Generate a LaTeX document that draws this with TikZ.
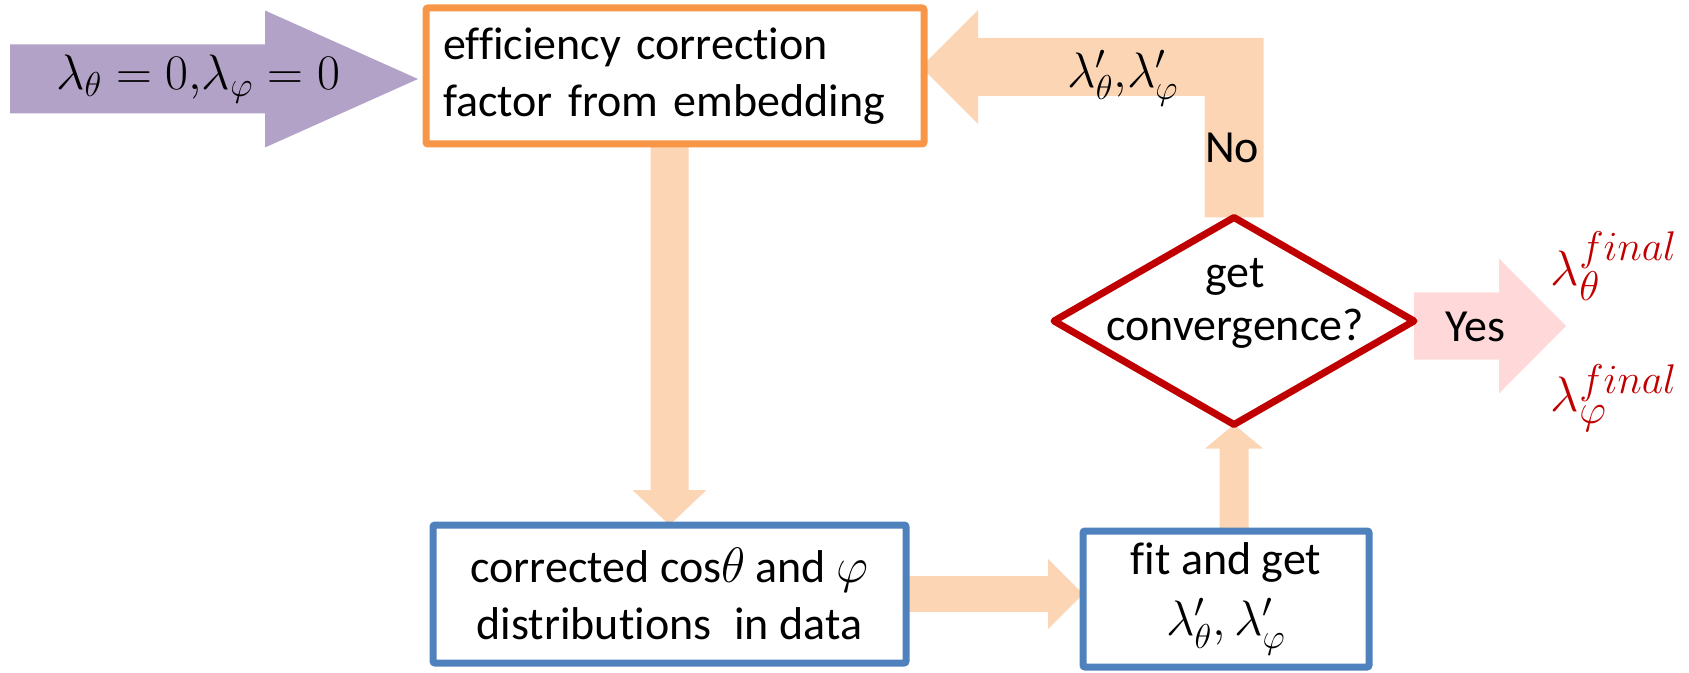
\documentclass[tikz,border=0pt]{standalone}
\usepackage{fontspec}
\setmainfont[Ligatures=NoCommon]{Carlito}
\usetikzlibrary{shapes.geometric,calc,backgrounds}

\definecolor{initfill}{HTML}{B3A2C7}
\definecolor{flowfill}{HTML}{FCD5B5}
\definecolor{yesfill}{HTML}{FFD9DA}
\definecolor{effline}{HTML}{F79646}
\definecolor{dataline}{HTML}{4F81BD}
\definecolor{decline}{HTML}{C00000}

\begin{document}
\begin{tikzpicture}[x=0.5pt,y=-0.5pt,
  every node/.style={inner sep=0pt, outer sep=0pt},
  txt/.style={font=\fontsize{23}{28.5}\selectfont},
  mathtxt/.style={font=\fontsize{26}{30}\selectfont},
  stepbox/.style={draw, line width=3.5pt, fill=white, rounded corners=1pt, txt},
  effbox/.style={stepbox, draw=effline, align=left},
  databox/.style={stepbox, draw=dataline, align=center},
  decision/.style={diamond, draw=decline, line width=3.5pt, line join=round, fill=white},
  flow/.style={fill=flowfill},
  result/.style={font=\fontsize{29}{34}\selectfont, text=decline}]

\useasboundingbox (0,0) rectangle (1689,673);

% process steps
\node[effbox, minimum width=249pt, minimum height=68pt, text width=232pt]
  (eff) at (675,76) {efficiency correction\\factor from embedding};
\node[databox, minimum width=236.5pt, minimum height=69pt]
  (corr) at (669.5,594) {corrected cos$\theta$ and $\varphi$\\distributions\hspace{0.5em}in data};
\node[databox, minimum width=143pt, minimum height=68pt]
  (fit) at (1226,599) {fit and get\\[2pt]$\lambda'_\theta,\lambda'_\varphi$};
\node[decision, minimum width=180pt, minimum height=103.5pt] (conv) at (1234,321) {};
\node[txt, align=center, font=\fontsize{23}{26.5}\selectfont] (convtext) at (1235,303) {get\\convergence?};

% final values
\node[result] (lamth) at (1614,266) {$\lambda_\theta^{final}$};
\node[result] (lamph) at (1614,398) {$\lambda_\varphi^{final}$};

% reference points for the block arrows
\coordinate (inTip) at ($(eff.west)+(-8,3)$);
\coordinate (backTip) at ($(eff.east)+(-3,-9)$);
\coordinate (backCorner) at (conv.north |- backTip);
\coordinate (downStart) at (eff.south -| corr.north);
\coordinate (rightTip) at (fit.west |- corr.east);
\coordinate (upStart) at (fit.north -| conv.south);
\coordinate (yesTip) at ($(conv.east)+(152,5)$);
\coordinate (yesStart) at (conv.east |- yesTip);

\begin{scope}[on background layer]
  % starting values
  \fill[initfill] ($(inTip)+(-408,-34.5)$) -- ($(inTip)+(-153,-34.5)$) -- ($(inTip)+(-153,-68.5)$)
    -- (inTip) -- ($(inTip)+(-153,68.5)$) -- ($(inTip)+(-153,34.5)$) -- ($(inTip)+(-408,34.5)$) -- cycle;
  % correction -> corrected distributions
  \fill[flow] ($(downStart)+(-19,0)$) -- ($(downStart)+(19,0)$) -- ($(corr.north)+(19,-35)$)
    -- ($(corr.north)+(37,-35)$) -- (corr.north) -- ($(corr.north)+(-37,-35)$)
    -- ($(corr.north)+(-19,-35)$) -- cycle;
  % distributions -> fit
  \fill[flow] ($(corr.east)+(0,-18)$) -- ($(rightTip)+(-35,-18)$) -- ($(rightTip)+(-35,-35)$)
    -- (rightTip) -- ($(rightTip)+(-35,35)$) -- ($(rightTip)+(-35,18)$) -- ($(corr.east)+(0,18)$) -- cycle;
  % fit -> convergence test
  \fill[flow] ($(upStart)+(-14.5,0)$) -- ($(conv.south)+(-14.5,24)$) -- ($(conv.south)+(-29,24)$)
    -- (conv.south) -- ($(conv.south)+(29,24)$) -- ($(conv.south)+(14.5,24)$) -- ($(upStart)+(14.5,0)$) -- cycle;
  % not converged: back to the correction factor
  \fill[flow] ($(conv.north)+(-29.5,0)$) -- ($(backCorner)+(-29.5,29)$) -- ($(backTip)+(57,29)$)
    -- ($(backTip)+(57,57)$) -- (backTip) -- ($(backTip)+(57,-57)$) -- ($(backTip)+(57,-29)$)
    -- ($(backCorner)+(29.5,-29)$) -- ($(conv.north)+(29.5,0)$) -- cycle;
  % converged
  \fill[yesfill] ($(yesStart)+(0,-33.5)$) -- ($(yesTip)+(-67,-33.5)$) -- ($(yesTip)+(-67,-67.5)$)
    -- (yesTip) -- ($(yesTip)+(-67,67.5)$) -- ($(yesTip)+(-67,33.5)$) -- ($(yesStart)+(0,33.5)$) -- cycle;
\end{scope}

% arrow labels
\node[mathtxt] (initlabel) at (198,79) {$\lambda_\theta=0{,}\lambda_\varphi=0$};
\node[mathtxt] (backlabel) at (1123,78) {$\lambda'_\theta{,}\lambda'_\varphi$};
\node[txt] (nolabel) at (1232,148) {No};
\node[txt] (yeslabel) at (1475,327) {Yes};

\end{tikzpicture}
\end{document}
